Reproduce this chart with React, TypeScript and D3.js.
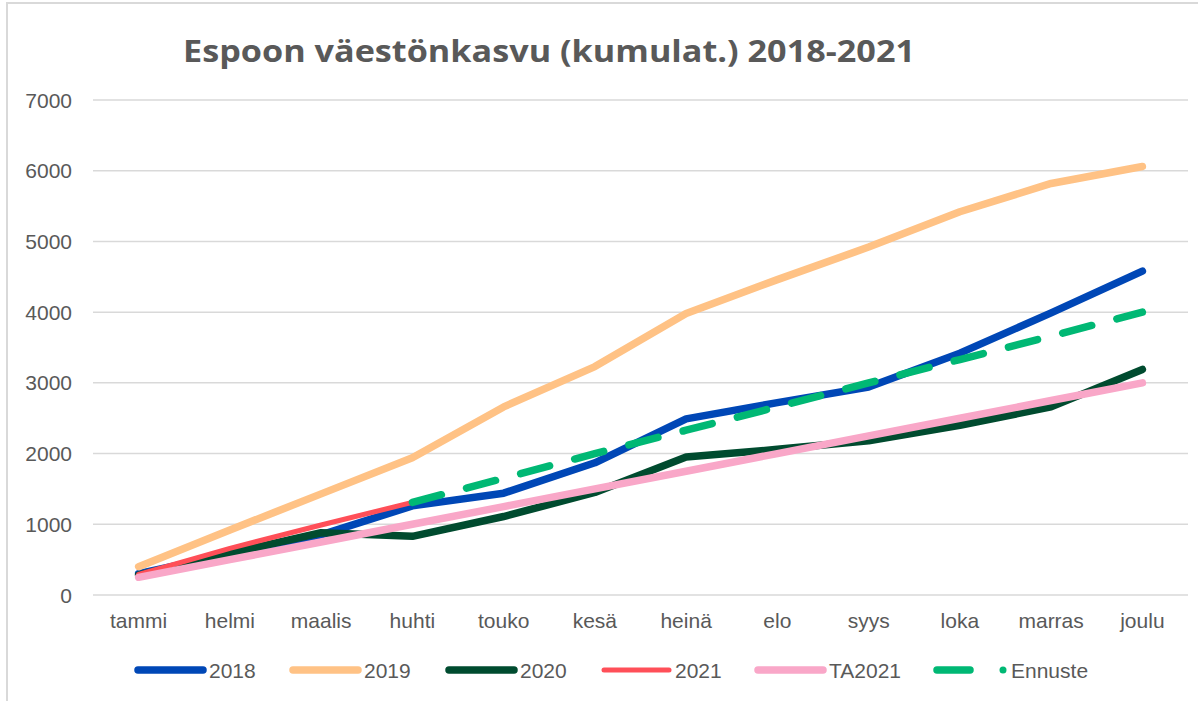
import * as d3 from "d3";

const months = [
  "tammi", "helmi", "maalis", "huhti", "touko", "kesä",
  "heinä", "elo", "syys", "loka", "marras", "joulu",
];

const s2018 = [300, 580, 850, 1260, 1440, 1870, 2490, 2720, 2940, 3420, 3990, 4580];
const s2019 = [400, 920, 1430, 1940, 2660, 3230, 3980, 4460, 4920, 5420, 5820, 6060];
const s2020 = [280, 590, 880, 830, 1110, 1450, 1950, 2060, 2180, 2400, 2660, 3190];
const s2021 = [290, 660, 990, 1310];
const sTA2021 = [250, 500, 750, 1000, 1250, 1500, 1750, 2000, 2250, 2500, 2750, 3000];
// forecast starts from huhti
const sEnnuste = [null, null, null, 1310, 1650, 2000, 2330, 2660, 3000, 3330, 3660, 4000];

const yTicks = [0, 1000, 2000, 3000, 4000, 5000, 6000, 7000];

type Series = {
  name: string;
  values: (number | null)[];
  color: string;
  width: number;
  dash?: string;
};

const series: Series[] = [
  { name: "2018", values: s2018, color: "#0047B6", width: 7.5 },
  { name: "2019", values: s2019, color: "#FFC285", width: 7.5 },
  { name: "2020", values: s2020, color: "#004B2F", width: 7.5 },
  { name: "2021", values: s2021, color: "#FF4F58", width: 5 },
  { name: "TA2021", values: sTA2021, color: "#F9A7C8", width: 7.5 },
  { name: "Ennuste", values: sEnnuste, color: "#00B874", width: 7.5, dash: "30 26" },
];

const W = 1198;
const H = 701;
const margin = { top: 100, right: 10, bottom: 106, left: 93 };
const textColor = "#595959";
const font = "'Liberation Sans', Arial, sans-serif";

export default function App() {
  const x = d3
    .scaleBand<string>()
    .domain(months)
    .range([margin.left, W - margin.right]);
  const y = d3
    .scaleLinear()
    .domain([0, 7000])
    .range([H - margin.bottom, margin.top]);

  const line = d3
    .line<number | null>()
    .defined((d) => d != null)
    .x((_, i) => (x(months[i]) as number) + x.bandwidth() / 2)
    .y((d) => y(d as number));

  const legendY = 670;
  const legendStarts = [135, 290, 446, 601, 755, 935];

  return (
    <svg
      width={W}
      height={H}
      style={{ position: "absolute", left: 0, top: 0, background: "#fff" }}
    >
      <rect x={7} y={3} width={W + 10} height={H + 10} fill="#fff" stroke="#d9d9d9" strokeWidth={2} />

      <text
        x={549}
        y={62}
        textAnchor="middle"
        fontFamily="'Open Sans', sans-serif"
        fontWeight={700}
        fontSize={30}
        fill={textColor}
        textLength={732}
        lengthAdjust="spacingAndGlyphs"
      >
        Espoon väestönkasvu (kumulat.) 2018-2021
      </text>

      <g>
        {yTicks.map((t) => (
          <g key={t}>
            <line
              x1={margin.left}
              x2={W - margin.right}
              y1={y(t)}
              y2={y(t)}
              stroke="#d9d9d9"
              strokeWidth={1.5}
            />
            <text
              x={72}
              y={y(t)}
              dy="0.36em"
              textAnchor="end"
              fontFamily={font}
              fontSize={21}
              fill={textColor}
            >
              {t}
            </text>
          </g>
        ))}
      </g>

      <g>
        {months.map((m) => (
          <text
            key={m}
            x={(x(m) as number) + x.bandwidth() / 2}
            y={628}
            textAnchor="middle"
            fontFamily={font}
            fontSize={21}
            fill={textColor}
          >
            {m}
          </text>
        ))}
      </g>

      <g fill="none" strokeLinecap="round" strokeLinejoin="round">
        {series.map((s) => (
          <path
            key={s.name}
            d={line(s.values) || undefined}
            stroke={s.color}
            strokeWidth={s.width}
            strokeDasharray={s.dash}
          />
        ))}
      </g>

      <g fontFamily={font} fontSize={21} fill={textColor}>
        {series.map((s, i) => {
          const x0 = legendStarts[i];
          if (s.dash) {
            return (
              <g key={s.name}>
                <line
                  x1={x0 + 2}
                  x2={x0 + 35}
                  y1={legendY}
                  y2={legendY}
                  stroke={s.color}
                  strokeWidth={s.width}
                  strokeLinecap="round"
                />
                <circle cx={x0 + 68} cy={legendY} r={3.5} fill={s.color} />
                <text x={x0 + 76} y={legendY} dy="0.36em">
                  {s.name}
                </text>
              </g>
            );
          }
          return (
            <g key={s.name}>
              <line
                x1={x0 + 3}
                x2={x0 + 68}
                y1={legendY}
                y2={legendY}
                stroke={s.color}
                strokeWidth={s.width}
                strokeLinecap="round"
              />
              <text x={x0 + 74} y={legendY} dy="0.36em">
                {s.name}
              </text>
            </g>
          );
        })}
      </g>
    </svg>
  );
}
